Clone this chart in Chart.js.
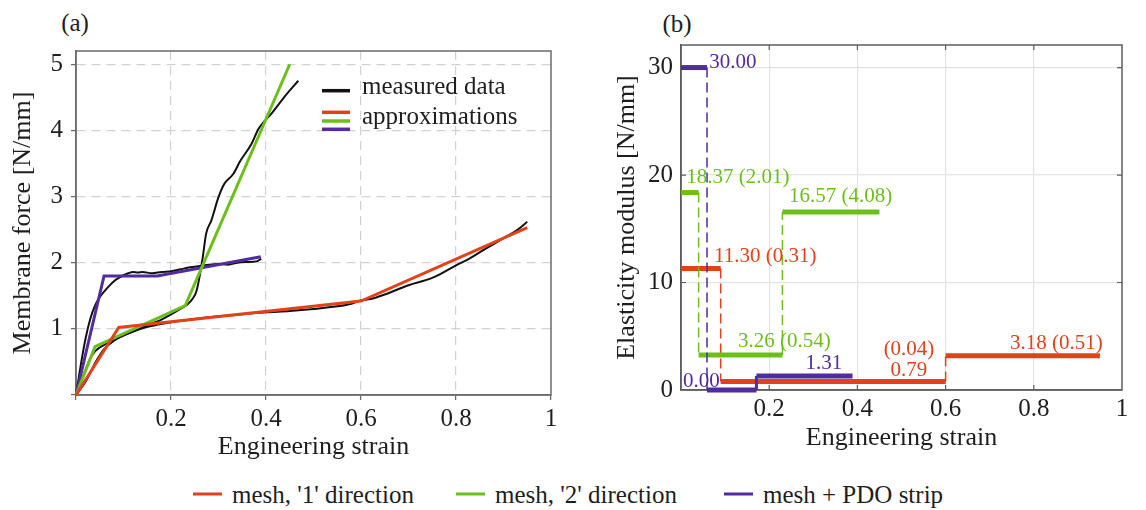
<!DOCTYPE html>
<html><head><meta charset="utf-8">
<script src="https://cdn.jsdelivr.net/npm/chart.js@4.4.1/dist/chart.umd.min.js"></script>
<style>
html,body{margin:0;padding:0;background:#fff;}
body{width:1146px;height:510px;position:relative;overflow:hidden;font-family:"Liberation Serif","Times New Roman",serif;color:#1e1e1e;}
#wa{position:absolute;left:0;top:0;width:580px;height:470px;}
#wb{position:absolute;left:580px;top:0;width:566px;height:470px;}
.panel{position:absolute;font-size:25px;line-height:1;transform:translate(-50%,-50%);white-space:nowrap;}
#legend{position:absolute;top:494px;left:0;width:1146px;height:0;}
.li{position:absolute;top:0;transform:translateY(-50%);display:flex;align-items:center;font-size:25px;line-height:1;white-space:nowrap;}
.sw{display:inline-block;width:29px;height:3px;margin-right:10px;}
</style></head>
<body>
<div class="panel" style="left:75px;top:22px;">(a)</div>
<div class="panel" style="left:677px;top:23px;">(b)</div>
<div id="wa"><canvas id="ca"></canvas></div>
<div id="wb"><canvas id="cb"></canvas></div>
<div id="legend"></div>
<script>
// ---------------- DATA ----------------
const seriesNames = ["mesh, '1' direction", "mesh, '2' direction", "mesh + PDO strip"];
const seriesColors = ['#e2421b', '#6cbf1b', '#522c9e'];

// (a) measured data (engineering strain, membrane force N/mm)
const measured1Strain = [0,0.02,0.04,0.05,0.06,0.08,0.1,0.12,0.14,0.17,0.2,0.25,0.3,0.35,0.4,0.45,0.5,0.55,0.58,0.6,0.62,0.65,0.7,0.75,0.8,0.83,0.86,0.9,0.93,0.95];
const measured1Force  = [0,0.2,0.48,0.6,0.7,0.82,0.9,0.96,1.01,1.06,1.1,1.15,1.19,1.22,1.25,1.27,1.3,1.34,1.38,1.43,1.45,1.52,1.66,1.77,1.96,2.07,2.2,2.37,2.5,2.62];
const measured2Strain = [0,0.01,0.02,0.03,0.04,0.06,0.08,0.1,0.12,0.14,0.16,0.18,0.2,0.22,0.235,0.245,0.254,0.266,0.274,0.285,0.3,0.312,0.331,0.346,0.369,0.384,0.392,0.411,0.438,0.468];
const measured2Force  = [0,0.2,0.38,0.55,0.66,0.76,0.84,0.9,0.96,1.02,1.08,1.14,1.22,1.3,1.37,1.45,1.58,2.04,2.44,2.64,2.99,3.19,3.34,3.54,3.79,4.02,4.1,4.25,4.5,4.75];
const measured3Strain = [0,0.01,0.02,0.03,0.04,0.05,0.06,0.07,0.08,0.09,0.1,0.11,0.12,0.13,0.14,0.16,0.18,0.2,0.22,0.24,0.26,0.28,0.3,0.32,0.34,0.36,0.38,0.39];
const measured3Force  = [0,0.45,0.85,1.15,1.35,1.48,1.57,1.65,1.72,1.77,1.81,1.84,1.86,1.85,1.86,1.84,1.86,1.87,1.9,1.93,1.95,1.97,1.98,1.97,2.0,2.01,2.02,2.06];

// (a) approximations (breakpoint strains and forces)
const breaksMesh1 = [0, 0.09, 0.6, 0.95];
const forceMesh1  = [0, 1.02, 1.42, 2.53];
const breaksMesh2 = [0, 0.04, 0.23, 0.45];
const forceMesh2  = [0, 0.73, 1.35, 5.0];
const breaksPDO   = [0, 0.059, 0.171, 0.389];
const forcePDO    = [0, 1.8, 1.8, 2.09];

// (b) elasticity moduli per strain interval (N/mm) and std deviations
const modulusMesh1 = [11.30, 0.79, 3.18];
const stdMesh1     = [0.31, 0.04, 0.51];
const modulusMesh2 = [18.37, 3.26, 16.57];
const stdMesh2     = [2.01, 0.54, 4.08];
const modulusPDO   = [30.00, 0.00, 1.31];

// ticks
const xTicksA = [0.2, 0.4, 0.6, 0.8, 1];
const yTicksA = [1, 2, 3, 4, 5];
const yTicksB = [0, 10, 20, 30];

// ---------------- LAYOUT / STYLE (not data) ----------------
const FONT = '"Liberation Serif","Times New Roman",serif';
const TXT = '#1e1e1e';
// label anchors in data coordinates for panel (b)
const labelAnchorsMesh1 = [{x:0.075,y:12.4,align:'left'},{x:0.517,y:1.83,sdY:3.78,align:'center'},{x:0.746,y:4.35,align:'left'}];
const labelAnchorsMesh2 = [{x:0.012,y:19.75,align:'left'},{x:0.129,y:4.53,align:'left'},{x:0.245,y:18.05,align:'left'}];
const labelAnchorsPDO   = [{x:0.064,y:30.5,align:'left'},{x:0.046,y:0.83,align:'center'},{x:0.324,y:2.48,align:'center'}];

const pts = (xs, ys) => xs.map((x, i) => ({x, y: ys[i]}));

// border box plugin (drawn beneath the data lines)
const boxPlugin = {
  id: 'box',
  beforeDatasetsDraw(chart, args, opts) {
    const {ctx, chartArea: a} = chart;
    ctx.save();
    ctx.strokeStyle = opts.color; ctx.lineWidth = opts.width;
    ctx.strokeRect(a.left, a.top, a.right - a.left, a.bottom - a.top);
    if (opts.inward) {
      const xs = chart.scales.x, ys = chart.scales.y;
      ctx.lineWidth = 1.2; ctx.strokeStyle = opts.color;
      ctx.beginPath();
      xs.ticks.forEach(t => { if (t.value > xs.min && t.value < xs.max) { const p = xs.getPixelForValue(t.value);
        ctx.moveTo(p, a.bottom); ctx.lineTo(p, a.bottom - 5); ctx.moveTo(p, a.top); ctx.lineTo(p, a.top + 5); }});
      ys.ticks.forEach(t => { if (t.value > ys.min && t.value < ys.max) { const p = ys.getPixelForValue(t.value);
        ctx.moveTo(a.left, p); ctx.lineTo(a.left + 5, p); ctx.moveTo(a.right, p); ctx.lineTo(a.right - 5, p); }});
      ctx.stroke();
    }
    ctx.restore();
  }
};

// in-plot legend for (a)
const legendA = {
  id: 'legendA',
  afterDraw(chart) {
    const {ctx, chartArea: a} = chart;
    const x0 = a.left + 246, x1 = a.left + 274, tx = a.left + 286;
    ctx.save();
    ctx.lineCap = 'butt';
    ctx.lineWidth = 3.5; ctx.strokeStyle = '#111';
    ctx.beginPath(); ctx.moveTo(x0, a.top + 39.7); ctx.lineTo(x1, a.top + 39.7); ctx.stroke();
    [61.3, 70, 78.3].forEach((dy, i) => {
      ctx.strokeStyle = seriesColors[i];
      ctx.beginPath(); ctx.moveTo(x0, a.top + dy); ctx.lineTo(x1, a.top + dy); ctx.stroke();
    });
    ctx.fillStyle = TXT; ctx.font = '25px ' + FONT; ctx.textBaseline = 'middle'; ctx.textAlign = 'left';
    ctx.fillText('measured data', tx, a.top + 36.6);
    ctx.fillText('approximations', tx, a.top + 66.6);
    ctx.restore();
  }
};

// value labels for (b)
const labelsB = {
  id: 'labelsB',
  afterDatasetsDraw(chart) {
    const {ctx} = chart; const xs = chart.scales.x, ys = chart.scales.y;
    ctx.save();
    ctx.font = '21px ' + FONT; ctx.textBaseline = 'middle';
    const put = (anchors, mods, sds, color) => {
      ctx.fillStyle = color;
      anchors.forEach((an, i) => {
        ctx.textAlign = an.align;
        const val = mods[i].toFixed(2);
        const px = xs.getPixelForValue(an.x);
        if (!sds) { ctx.fillText(val, px, ys.getPixelForValue(an.y)); return; }
        const sd = '(' + sds[i].toFixed(2) + ')';
        if (an.sdY !== undefined) {
          ctx.fillText(sd, px, ys.getPixelForValue(an.sdY));
          ctx.fillText(val, px, ys.getPixelForValue(an.y));
        } else {
          ctx.fillText(val + ' ' + sd, px, ys.getPixelForValue(an.y));
        }
      });
    };
    put(labelAnchorsMesh1, modulusMesh1, stdMesh1, seriesColors[0]);
    put(labelAnchorsMesh2, modulusMesh2, stdMesh2, seriesColors[1]);
    put(labelAnchorsPDO, modulusPDO, null, seriesColors[2]);
    ctx.restore();
  }
};

const tickFont = {family: FONT, size: 25, lineHeight: 1.2};
const titleFont = {family: FONT, size: 26, lineHeight: 1.2};

// ---------------- CHART (a) ----------------
const approxDs = (br, f, c) => ({data: pts(br, f), borderColor: c, borderWidth: 3, pointRadius: 0, tension: 0, fill: false, borderJoinStyle: 'miter', clip: 4});
const measDs = (xs, ys) => ({data: pts(xs, ys), borderColor: '#111', borderWidth: 2, pointRadius: 0, cubicInterpolationMode: 'monotone', fill: false, clip: 4});

new Chart(document.getElementById('ca'), {
  type: 'line',
  data: {datasets: [
    approxDs(breaksMesh1, forceMesh1, seriesColors[0]),
    approxDs(breaksMesh2, forceMesh2, seriesColors[1]),
    approxDs(breaksPDO, forcePDO, seriesColors[2]),
    measDs(measured1Strain, measured1Force),
    measDs(measured2Strain, measured2Force),
    measDs(measured3Strain, measured3Force)
  ]},
  options: {
    responsive: true, maintainAspectRatio: false, animation: false,
    layout: {padding: {top: 51, right: 29, left: 0, bottom: 0}},
    plugins: {legend: {display: false}, tooltip: {enabled: false}, box: {color: '#6b6b6b', width: 1.5, inward: false}},
    scales: {
      x: {type: 'linear', min: 0, max: 1,
        afterFit: s => { s.height = 75; },
        afterBuildTicks: s => { s.ticks = [0].concat(xTicksA).map(v => ({value: v})); },
        ticks: {font: tickFont, color: TXT, padding: 4, maxRotation: 0, autoSkip: false, callback: v => v === 0 ? '' : String(v)},
        grid: {color: c => (c.tick && (c.tick.value === 0 || c.tick.value === 1)) ? 'rgba(0,0,0,0)' : '#d2d2d2', lineWidth: 1.2, tickLength: 5, tickColor: '#6b6b6b', tickWidth: 1.3},
        border: {color: '#6b6b6b', width: 1.5, dash: [9, 6]},
        title: {display: true, text: 'Engineering strain', font: titleFont, color: TXT, padding: {top: 0, bottom: 7.4}}
      },
      y: {type: 'linear', min: 0, max: 5.2,
        afterFit: s => { s.width = 76; },
        afterBuildTicks: s => { s.ticks = [0].concat(yTicksA).map(v => ({value: v})); },
        ticks: {font: tickFont, color: TXT, padding: 8, autoSkip: false, callback: v => v === 0 ? '' : String(v)},
        grid: {color: c => (c.tick && c.tick.value === 0) ? 'rgba(0,0,0,0)' : '#d2d2d2', lineWidth: 1.2, tickLength: 5, tickColor: '#6b6b6b', tickWidth: 1.3},
        border: {color: '#6b6b6b', width: 1.5, dash: [9, 6]},
        title: {display: true, text: 'Membrane force [N/mm]', font: titleFont, color: TXT, padding: {top: 7.4, bottom: 0}}
      }
    }
  },
  plugins: [boxPlugin, legendA]
});

// ---------------- CHART (b) ----------------
// each modulus plateau is a solid thick segment; each jump between plateaus is a connector
const stepDatasets = (br, mod, c) => {
  const out = [];
  mod.forEach((m, i) => {
    out.push({data: [{x: br[i], y: m}, {x: br[i+1], y: m}], borderColor: c, borderWidth: 5, borderCapStyle: 'butt', pointRadius: 0, tension: 0, fill: false, clip: 6});
  });
  for (let i = 1; i < mod.length; i++) {
    const big = Math.abs(mod[i] - mod[i-1]) > 2;
    out.push({data: [{x: br[i], y: mod[i-1]}, {x: br[i], y: mod[i]}], borderColor: c, borderWidth: big ? 1.5 : 3,
      borderDash: big ? [10, 5] : [], borderCapStyle: 'butt', pointRadius: 0, tension: 0, fill: false, clip: 6});
  }
  return out;
};

new Chart(document.getElementById('cb'), {
  type: 'line',
  data: {datasets: [].concat(
    stepDatasets(breaksPDO, modulusPDO, seriesColors[2]),
    stepDatasets(breaksMesh2, modulusMesh2, seriesColors[1]),
    stepDatasets(breaksMesh1, modulusMesh1, seriesColors[0])
  )},
  options: {
    responsive: true, maintainAspectRatio: false, animation: false,
    layout: {padding: {top: 45, right: 24, left: 0, bottom: 0}},
    plugins: {legend: {display: false}, tooltip: {enabled: false}, box: {color: '#5e5e5e', width: 1.5, inward: true}},
    scales: {
      x: {type: 'linear', min: 0, max: 1,
        afterFit: s => { s.height = 80; },
        afterBuildTicks: s => { s.ticks = [0].concat(xTicksA).map(v => ({value: v})); },
        ticks: {font: tickFont, color: TXT, padding: 4, maxRotation: 0, autoSkip: false, callback: v => v === 0 ? '' : String(v)},
        grid: {color: c => (c.tick && (c.tick.value === 0 || c.tick.value === 1)) ? 'rgba(0,0,0,0)' : '#e3e3e3', lineWidth: 1.2, drawTicks: false},
        border: {color: '#5e5e5e', width: 1.5, z: -1},
        title: {display: true, text: 'Engineering strain', font: titleFont, color: TXT, padding: {top: 0, bottom: 16.4}}
      },
      y: {type: 'linear', min: 0, max: 32.1,
        afterFit: s => { s.width = 101; },
        afterBuildTicks: s => { s.ticks = yTicksB.map(v => ({value: v})); },
        ticks: {font: tickFont, color: TXT, padding: 8, autoSkip: false, callback: v => String(v)},
        grid: {color: c => (c.tick && c.tick.value === 0) ? 'rgba(0,0,0,0)' : '#e3e3e3', lineWidth: 1.2, drawTicks: false},
        border: {color: '#5e5e5e', width: 1.5, z: -1},
        title: {display: true, text: 'Elasticity modulus [N/mm]', font: titleFont, color: TXT, padding: {top: 31.4, bottom: 0}}
      }
    }
  },
  plugins: [boxPlugin, labelsB]
});

// ---------------- bottom legend ----------------
const legendLeft = [193, 456, 724];
const lg = document.getElementById('legend');
seriesNames.forEach((n, i) => {
  const d = document.createElement('div'); d.className = 'li'; d.style.left = legendLeft[i] + 'px';
  const s = document.createElement('span'); s.className = 'sw'; s.style.background = seriesColors[i];
  const t = document.createElement('span'); t.textContent = n;
  d.appendChild(s); d.appendChild(t); lg.appendChild(d);
});
</script>
</body></html>
